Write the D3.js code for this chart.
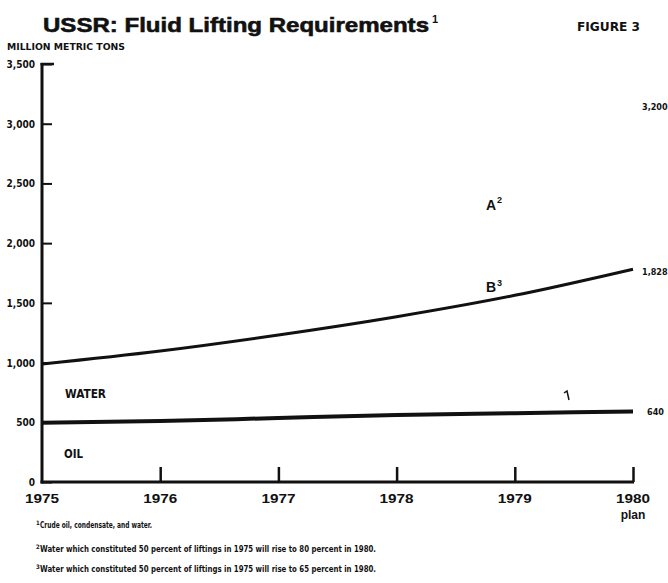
<!DOCTYPE html>
<html>
<head>
<meta charset="utf-8">
<title>USSR: Fluid Lifting Requirements</title>
<script src="https://cdnjs.cloudflare.com/ajax/libs/d3/7.8.5/d3.min.js"></script>
<style>
  body { margin: 0; background: #fff; }
  svg text { font-family: "Liberation Sans", Arial, sans-serif; font-weight: bold; fill: #111; }
  .cond { font-family: "DejaVu Sans Condensed", "Liberation Sans Narrow", sans-serif; }
</style>
</head>
<body>
<div id="chart"></div>
<script>
// data
var years = [1975, 1976, 1977, 1978, 1979, 1980];
var yearLabels = ["1975", "1976", "1977", "1978", "1979", "1980"];
var totalLiftings = [988, 1097, 1231, 1384, 1563, 1782]; // oil + water (B)
var oilOutput = [497, 510, 536, 561, 576, 591];
var yTicks = [0, 500, 1000, 1500, 2000, 2500, 3000, 3500];
var endLabels = ["3,200", "1,828", "640"];
var footnotes = [
  ["1", "Crude oil, condensate, and water."],
  ["2", "Water which constituted 50 percent of liftings in 1975 will rise to 80 percent in 1980."],
  ["3", "Water which constituted 50 percent of liftings in 1975 will rise to 65 percent in 1980."]
];

var W = 668, H = 583;
var svg = d3.select("#chart").append("svg").attr("width", W).attr("height", H);

var x = d3.scaleLinear().domain([1975, 1980]).range([42, 633]);
var y = d3.scaleLinear().domain([0, 3500]).range([482, 64]);

// title block
svg.append("text").attr("x", 43).attr("y", 32).attr("font-size", 21)
  .attr("stroke", "#111").attr("stroke-width", 0.6)
  .attr("textLength", 386).attr("lengthAdjust", "spacingAndGlyphs")
  .text("USSR: Fluid Lifting Requirements");
svg.append("text").attr("x", 432).attr("y", 23).attr("font-size", 11).text("1");
svg.append("text").attr("class", "cond").attr("x", 577).attr("y", 31).attr("font-size", 13)
  .attr("textLength", 63).attr("lengthAdjust", "spacingAndGlyphs").text("FIGURE 3");
svg.append("text").attr("class", "cond").attr("x", 7).attr("y", 50).attr("font-size", 9)
  .attr("textLength", 118).attr("lengthAdjust", "spacingAndGlyphs").text("MILLION METRIC TONS");

// y axis
var yAxis = d3.axisRight(y).tickValues(yTicks).tickSize(10).tickFormat("");
var gy = svg.append("g").attr("transform", "translate(" + x(1975) + ",0)").call(yAxis);
gy.select(".domain").remove();
gy.selectAll("line").attr("stroke", "#111").attr("stroke-width", 2);
svg.append("line").attr("x1", x(1975)).attr("x2", x(1975)).attr("y1", y(3500) - 1).attr("y2", y(0) + 1.5)
  .attr("stroke", "#111").attr("stroke-width", 3);
svg.append("line").attr("x1", x(1975) - 1.5).attr("x2", x(1975) + 12).attr("y1", y(3500)).attr("y2", y(3500))
  .attr("stroke", "#111").attr("stroke-width", 2.5);
svg.selectAll(".ylab").data(yTicks).enter().append("text").attr("class", "cond")
  .attr("x", 35).attr("y", function(d) { return y(d) + 4; })
  .attr("text-anchor", "end").attr("font-size", 10)
  .text(function(d) { return d3.format(",")(d); });

// x axis
var xAxis = d3.axisTop(x).tickValues(years.slice(1)).tickSize(15).tickFormat("");
var gx = svg.append("g").attr("transform", "translate(0," + y(0) + ")").call(xAxis);
gx.select(".domain").remove();
gx.selectAll("line").attr("stroke", "#111").attr("stroke-width", 2.5);
svg.append("line").attr("x1", x(1975) - 1.5).attr("x2", x(1980) + 1).attr("y1", y(0)).attr("y2", y(0))
  .attr("stroke", "#111").attr("stroke-width", 3);
svg.selectAll(".xlab").data(years).enter().append("text")
  .attr("x", function(d) { return x(d); }).attr("y", 503)
  .attr("text-anchor", "middle").attr("font-size", 12)
  .attr("textLength", 34).attr("lengthAdjust", "spacingAndGlyphs")
  .text(function(d, i) { return yearLabels[i]; });
svg.append("text").attr("x", x(1980)).attr("y", 519).attr("text-anchor", "middle")
  .attr("font-size", 12).text("plan");

// series lines
var line = d3.line().x(function(d) { return x(d[0]); }).y(function(d) { return y(d[1]); })
  .curve(d3.curveMonotoneX);
svg.append("path").datum(years.map(function(d, i) { return [d, totalLiftings[i]]; }))
  .attr("d", line).attr("fill", "none").attr("stroke", "#111").attr("stroke-width", 3);
svg.append("path").datum(years.map(function(d, i) { return [d, oilOutput[i]]; }))
  .attr("d", line).attr("fill", "none").attr("stroke", "#111").attr("stroke-width", 4);

// right-hand values
var endY = [110, 275, 415];
svg.selectAll(".endlab").data(endLabels).enter().append("text").attr("class", "cond")
  .attr("x", function(d, i) { return i == 2 ? 647 : 642; })
  .attr("y", function(d, i) { return endY[i]; })
  .attr("font-size", 9)
  .text(function(d) { return d; });

// area labels
svg.append("text").attr("class", "cond").attr("x", 65).attr("y", 398).attr("font-size", 13)
  .attr("textLength", 41).attr("lengthAdjust", "spacingAndGlyphs").text("WATER");
svg.append("text").attr("class", "cond").attr("x", 64).attr("y", 458).attr("font-size", 13)
  .attr("textLength", 19).attr("lengthAdjust", "spacingAndGlyphs").text("OIL");
svg.append("text").attr("x", 486).attr("y", 210).attr("font-size", 14).text("A");
svg.append("text").attr("x", 497).attr("y", 203).attr("font-size", 9).text("2");
svg.append("text").attr("x", 486).attr("y", 292).attr("font-size", 14).text("B");
svg.append("text").attr("x", 497).attr("y", 286).attr("font-size", 9).text("3");

// small pointer mark near oil line
svg.append("path").attr("d", "M564,393 L567,391 L569,400").attr("fill", "none")
  .attr("stroke", "#111").attr("stroke-width", 1.5);

// footnotes
var fn = svg.selectAll(".fn").data(footnotes).enter().append("g")
  .attr("transform", function(d, i) { return "translate(36," + [528, 552, 572][i] + ")"; });
fn.append("text").attr("class", "cond").attr("y", -3).attr("font-size", 6).text(function(d) { return d[0]; });
fn.append("text").attr("class", "cond").attr("x", 4).attr("font-size", 8)
  .attr("textLength", function(d, i) { return i == 0 ? 112 : 336; })
  .attr("lengthAdjust", "spacingAndGlyphs")
  .text(function(d) { return d[1]; });
</script>
</body>
</html>
